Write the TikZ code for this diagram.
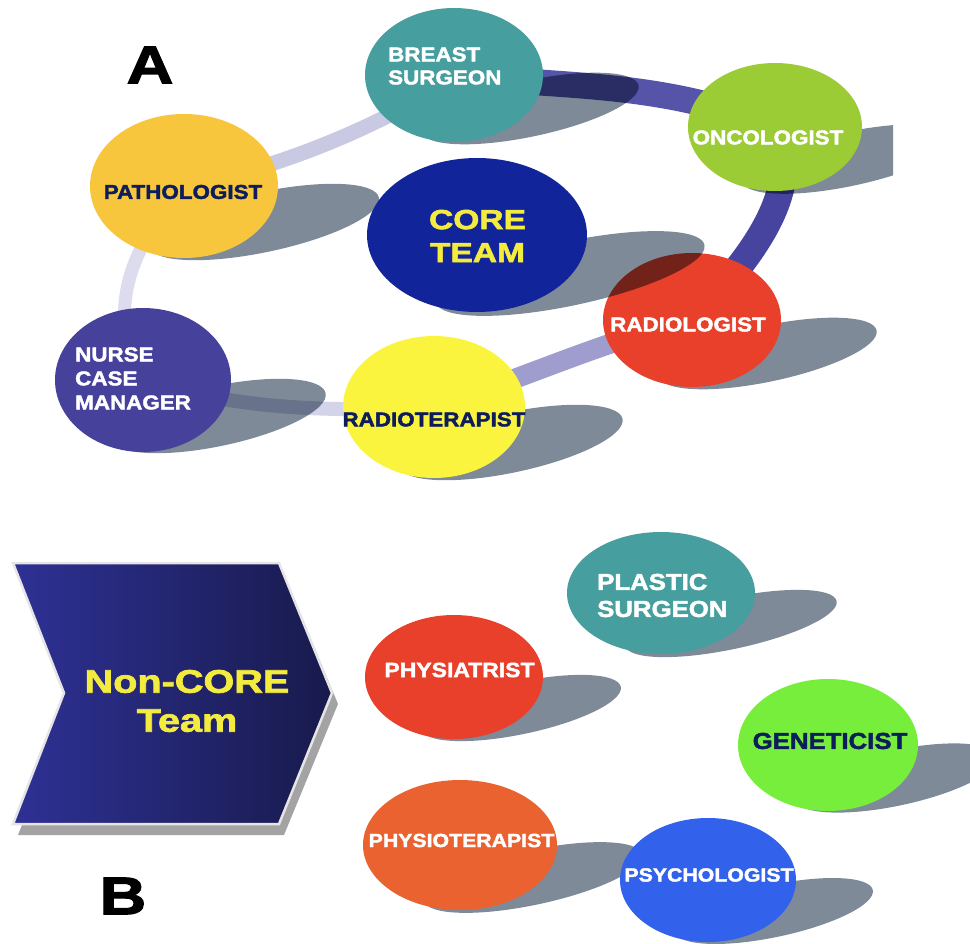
\documentclass[tikz,border=0pt]{standalone}
\usepackage{fontspec}
\usepackage{tikz}
\usetikzlibrary{shapes.geometric}
\setmainfont{Liberation Sans}
\newfontfamily\blobfont[FakeStretch=1.12,BoldFeatures={FakeBold=2}]{Liberation Sans}
\newfontfamily\bigfont[FakeStretch=1.22,BoldFeatures={FakeBold=2.2}]{Liberation Sans}

\definecolor{tealblob}{HTML}{479E9E}
\definecolor{oncogreen}{HTML}{9BCB35}
\definecolor{corenavy}{HTML}{12249A}
\definecolor{pathoyellow}{HTML}{F7C63C}
\definecolor{radred}{HTML}{E8402A}
\definecolor{nursepurple}{HTML}{46419B}
\definecolor{rtyellow}{HTML}{FAF43F}
\definecolor{genegreen}{HTML}{76EE3B}
\definecolor{physorange}{HTML}{E9622F}
\definecolor{psyblue}{HTML}{3262EB}
\definecolor{textnavy}{HTML}{0D1D5B}
\definecolor{textyellow}{HTML}{F4EB3F}
\definecolor{shadowgrey}{HTML}{7E8A98}
\definecolor{chevleft}{HTML}{2E3194}
\definecolor{chevright}{HTML}{181A4C}
\definecolor{ringa}{HTML}{C9C9E4}
\definecolor{ringb}{HTML}{5654A9}
\definecolor{ringc}{HTML}{47449F}
\definecolor{ringd}{HTML}{9F9DCD}
\definecolor{ringe}{HTML}{D3D3E9}
\definecolor{ringf}{HTML}{DCDCEE}

\pgfdeclarelayer{ring}
\pgfdeclarelayer{shade}
\pgfsetlayers{ring,shade,main}

\begin{document}
\begin{tikzpicture}[x=1pt,y=1pt,yscale=-1,
  blob/.style={ellipse, inner sep=0pt},
  lbl/.style={font=\blobfont\bfseries\fontsize{20}{23}\selectfont, inner sep=0pt, align=center},
  biglbl/.style={font=\bigfont\bfseries\fontsize{#1}{#1}\selectfont, inner sep=0pt, align=center},
  ringband/.style={line width=#1, line cap=butt},
  shadowfill/.style={fill=shadowgrey, blend mode=multiply}]

\useasboundingbox (0,0) rectangle (970,944);

%%% Panel A : core team

% Shape: Ellipses
\node[blob, fill=tealblob, minimum width=178, minimum height=134] (breast) at (454,75) {};
\node[blob, fill=oncogreen, minimum width=174, minimum height=128] (onco) at (775,127) {};
\node[blob, fill=pathoyellow, minimum width=188, minimum height=144] (patho) at (184,186) {};
\node[blob, fill=radred, minimum width=178, minimum height=134] (radio) at (692,320) {};
% core team shadow falls over the radiologist
\fill[shadowfill, rotate around={-12:(570,273.5)}] (570,273.5) ellipse (137.5 and 32);
\node[blob, fill=corenavy, minimum width=220, minimum height=154] (core) at (477,235) {};
\node[blob, fill=nursepurple, minimum width=176, minimum height=144] (nurse) at (143,380) {};
\node[blob, fill=rtyellow, minimum width=182, minimum height=142] (radiot) at (434,407) {};

% Ring between the blobs
\begin{pgfonlayer}{ring}
\draw[ringband=15, ringa] (patho.center) .. controls (278,170) and (400,118) .. (breast.center);
\draw[ringband=26, ringb] (breast.center) .. controls (560,88) and (660,80) .. (onco.center);
\draw[ringband=27, ringc] (onco.center) .. controls (800,180) and (770,240) .. (radio.center);
\draw[ringband=20, ringd] (radio.center) .. controls (610,338) and (520,380) .. (radiot.center);
\draw[ringband=14, ringe] (radiot.center) .. controls (330,412) and (240,410) .. (nurse.center);
\draw[ringband=13, ringf] (nurse.center) .. controls (110,320) and (120,260) .. (patho.center);
\end{pgfonlayer}

% Shadows
\begin{pgfonlayer}{shade}
\fill[shadowfill, rotate around={-12:(530,108.5)}] (530,108.5) ellipse (111 and 28);
\begin{scope}
\clip (0,0) rectangle (893,944);
\fill[shadowfill, rotate around={-12:(849,159)}] (849,159) ellipse (109 and 27);
\end{scope}
\fill[shadowfill, rotate around={-12:(264,222)}] (264,222) ellipse (117.5 and 30);
\fill[shadowfill, rotate around={-12:(768,353.5)}] (768,353.5) ellipse (111 and 28);
\fill[shadowfill, rotate around={-12:(218,416)}] (218,416) ellipse (110 and 30);
\fill[shadowfill, rotate around={-12:(511,442.5)}] (511,442.5) ellipse (114 and 30);
\end{pgfonlayer}

% Text Nodes
\node[biglbl=53] (labela) at (150,65) {A};
\node[lbl, white, align=left, anchor=west] (breast-t) at (388,66) {BREAST\\SURGEON};
\node[lbl, white] (onco-t) at (768,137.5) {ONCOLOGIST};
\node[lbl, textnavy] (patho-t) at (183,192) {PATHOLOGIST};
\node[biglbl=27.5, textyellow, font=\bigfont\bfseries\fontsize{27.5}{33}\selectfont] (core-t) at (477.5,236) {CORE\\TEAM};
\node[lbl, white] (radio-t) at (688,324.5) {RADIOLOGIST};
\node[lbl, white, align=left, anchor=west, font=\blobfont\bfseries\fontsize{20}{24}\selectfont] (nurse-t) at (75,378.5) {NURSE\\CASE\\MANAGER};
\node[lbl, textnavy] (radiot-t) at (434,419.5) {RADIOTERAPIST};

%%% Panel B : non-core team

% Shape: Chevron
\fill[black!36] (18,574) -- (284,574) -- (338,704) -- (284,835) -- (18,835) -- (70,704) -- cycle;
\shade[left color=chevleft, right color=chevright, draw=black!10, line width=2.5]
  (13,563) -- (279,563) -- (332,693) -- (279,824) -- (13,824) -- (64,693) -- cycle;
\node[biglbl=32.5, textyellow, font=\bigfont\bfseries\fontsize{32.5}{39}\selectfont] (noncore) at (187,701) {Non-CORE\\Team};

% Shadows
\fill[shadowfill, rotate around={-12:(731,623.5)}] (731,623.5) ellipse (108 and 25.6);
\fill[shadowfill, rotate around={-12:(521,708)}] (521,708) ellipse (102 and 26);
\fill[shadowfill, rotate around={-12:(896,778)}] (896,778) ellipse (103.5 and 27.7);
\fill[shadowfill, rotate around={-12:(533,877.5)}] (533,877.5) ellipse (111.5 and 27.3);
\fill[shadowfill, rotate around={-12:(774,911)}] (774,911) ellipse (101 and 26);

% Shape: Ellipses
\node[blob, fill=tealblob, minimum width=188, minimum height=122] (plastic) at (661,593) {};
\node[blob, fill=radred, minimum width=178, minimum height=124] (physia) at (454,677) {};
\node[blob, fill=genegreen, minimum width=180, minimum height=132] (gene) at (828,745) {};
\node[blob, fill=physorange, minimum width=194, minimum height=130] (physio) at (460,845) {};
\node[blob, fill=psyblue, minimum width=176, minimum height=124] (psycho) at (708,880) {};

% Text Nodes
\node[lbl, white, align=left, anchor=west, font=\blobfont\bfseries\fontsize{23}{27}\selectfont] (plastic-t) at (597,595.5) {PLASTIC\\SURGEON};
\node[lbl, white, font=\blobfont\bfseries\fontsize{20.5}{23}\selectfont] (physia-t) at (459.5,670) {PHYSIATRIST};
\node[lbl, textnavy, font=\blobfont\bfseries\fontsize{23}{23}\selectfont] (gene-t) at (830,741) {GENETICIST};
\node[lbl, white, font=\blobfont\bfseries\fontsize{19}{23}\selectfont] (physio-t) at (461.5,840.5) {PHYSIOTERAPIST};
\node[lbl, white, font=\blobfont\bfseries\fontsize{19}{23}\selectfont] (psycho-t) at (709,875) {PSYCHOLOGIST};
\node[biglbl=53] (labelb) at (123,896) {B};

\end{tikzpicture}
\end{document}
